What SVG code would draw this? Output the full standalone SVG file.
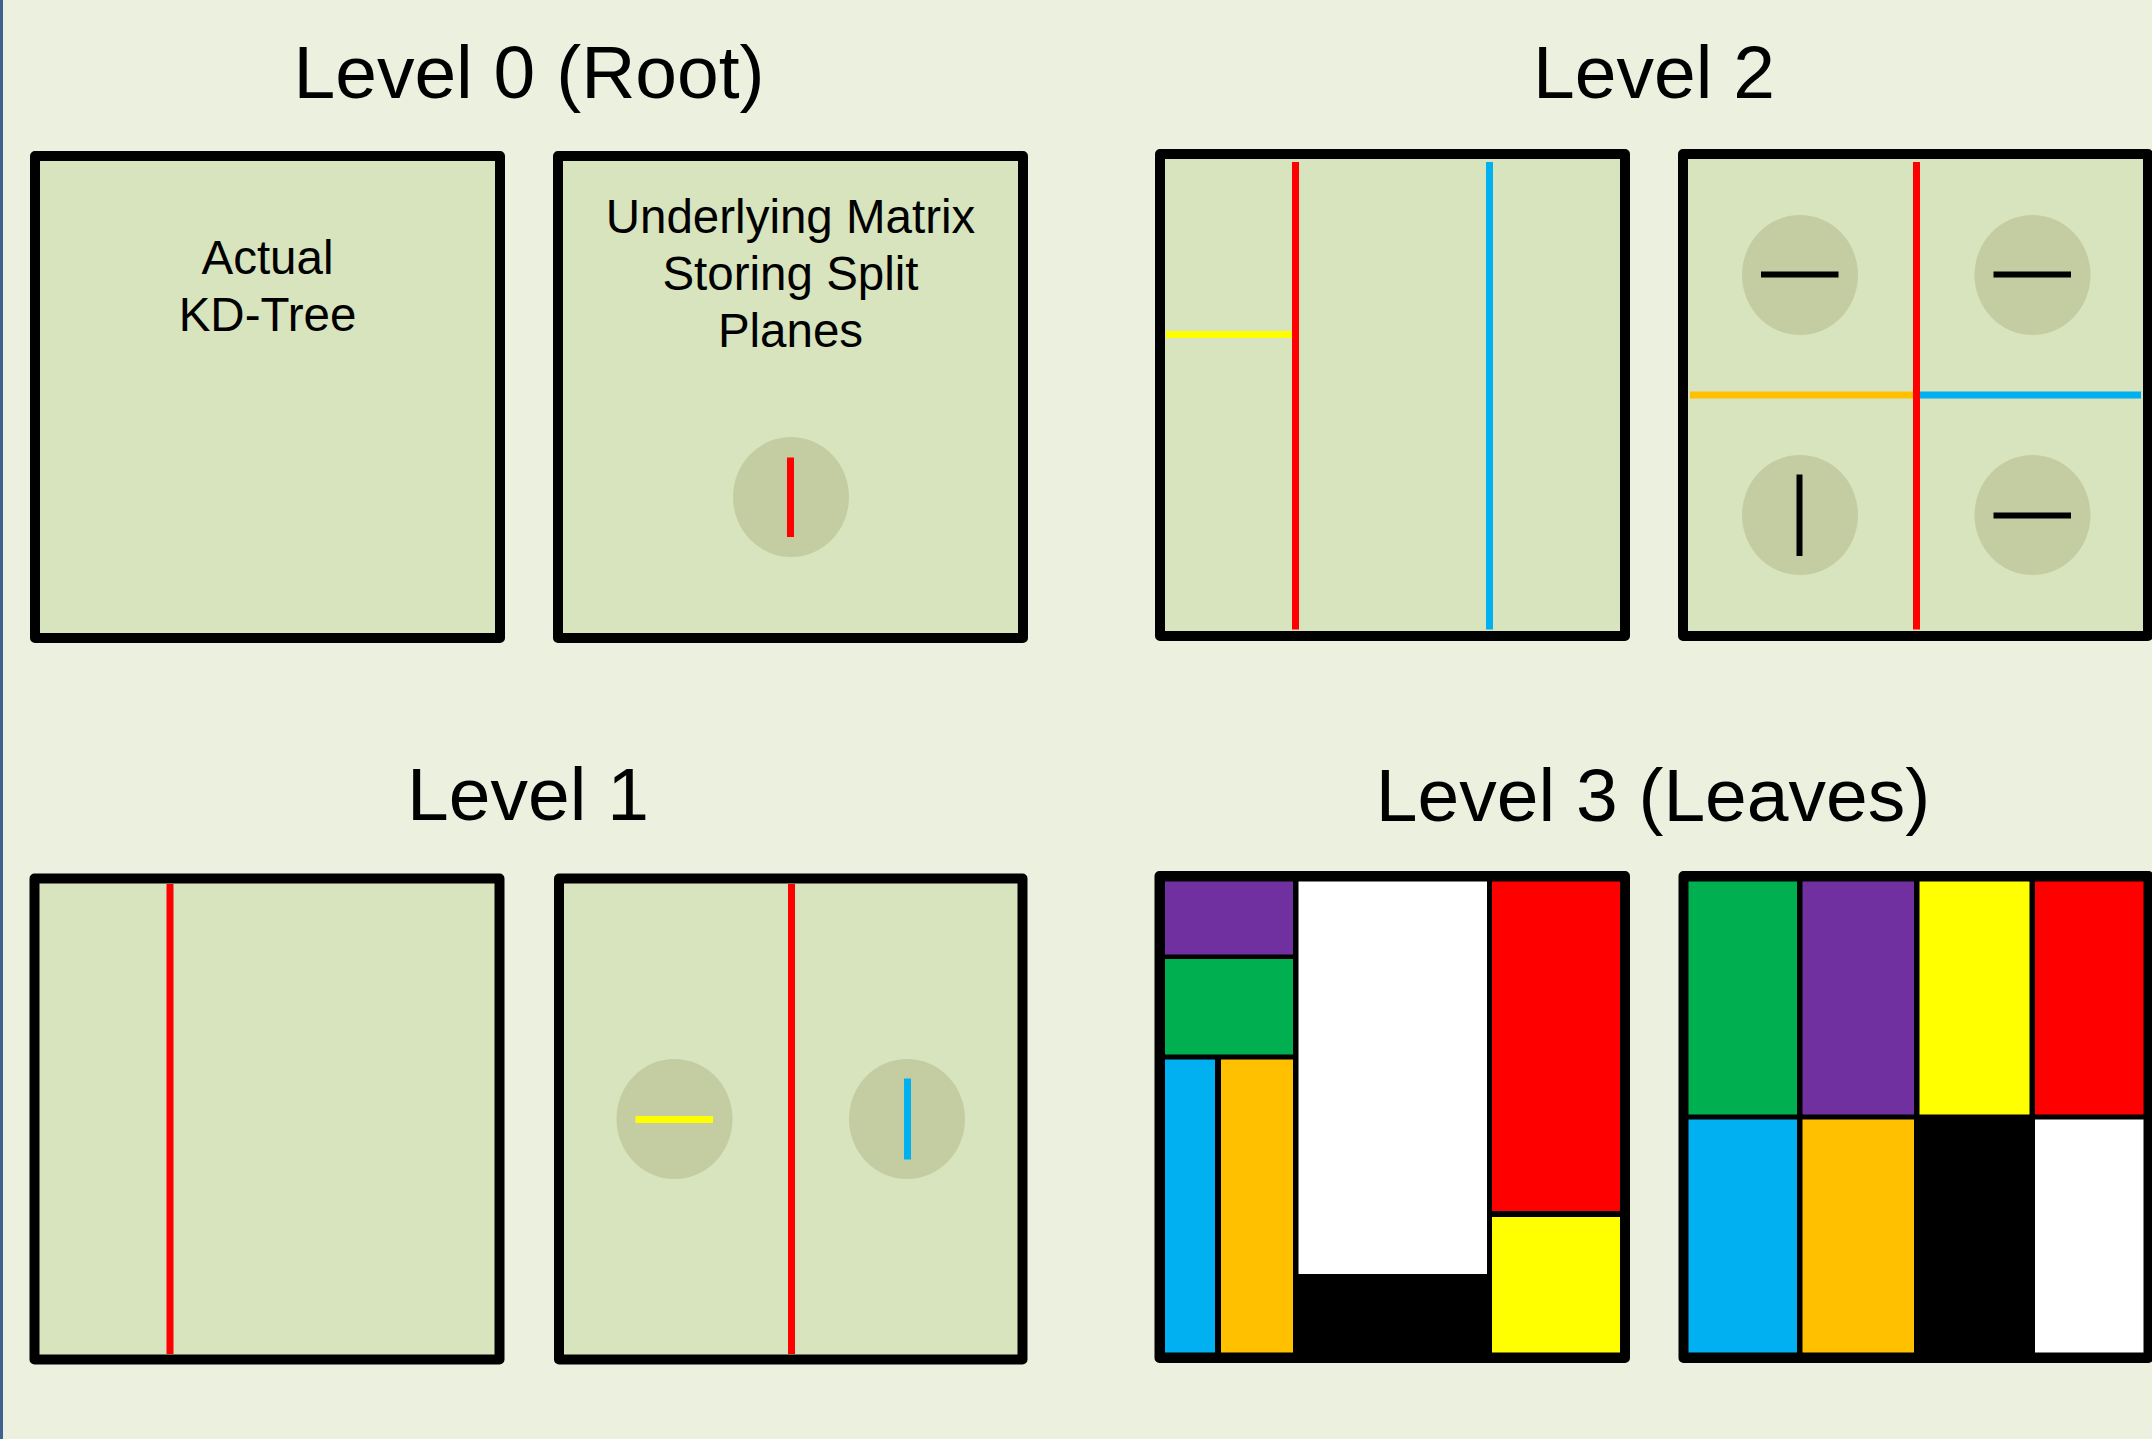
<svg xmlns="http://www.w3.org/2000/svg" width="2152" height="1439" viewBox="0 0 2152 1439">
<style>
.title{font-family:"Liberation Sans",Arial,sans-serif;font-size:75px;fill:#000;text-anchor:middle}
.lbl{font-family:"Liberation Sans",Arial,sans-serif;font-size:47.5px;fill:#000;text-anchor:middle}
.box{fill:#D7E4BD;stroke:#000;stroke-width:10;stroke-linejoin:round}
.leafbox{fill:#000;stroke:#000;stroke-width:10;stroke-linejoin:round}
.oval{fill:#C4CDA2}
.red{stroke:#FF0000;stroke-width:7}
.blue{stroke:#00B0F0;stroke-width:7}
.yellow{stroke:#FFFF00;stroke-width:7}
.orange{stroke:#FFC000;stroke-width:7}
.blk{stroke:#000;stroke-width:6}
</style>
<rect x="0" y="0" width="2152" height="1439" fill="#EBF0DF"/>
<rect x="0" y="0" width="3" height="1439" fill="#3F6190"/>

<g id="level0">
  <text class="title" x="529" y="98">Level 0 (Root)</text>
  <g id="l0-tree">
    <rect class="box" x="35" y="156" width="465" height="482"/>
    <text class="lbl" x="267.5" y="273.5">Actual</text>
    <text class="lbl" x="267.5" y="330.5">KD-Tree</text>
  </g>
  <g id="l0-matrix">
    <rect class="box" x="558" y="156" width="465" height="482"/>
    <text class="lbl" x="790.5" y="232.5">Underlying Matrix</text>
    <text class="lbl" x="790.5" y="289.5">Storing Split</text>
    <text class="lbl" x="790.5" y="346.5">Planes</text>
    <ellipse class="oval" cx="791" cy="497" rx="58" ry="60"/>
    <line class="red" x1="790.5" y1="457.5" x2="790.5" y2="537"/>
  </g>
</g>

<g id="level2">
  <text class="title" x="1654" y="98">Level 2</text>
  <g id="l2-tree">
    <rect class="box" x="1160" y="154" width="465" height="482"/>
    <line class="yellow" x1="1166" y1="334.5" x2="1292" y2="334.5"/>
    <line class="red" x1="1295.5" y1="162" x2="1295.5" y2="629.5"/>
    <line class="blue" x1="1489.5" y1="162" x2="1489.5" y2="629.5"/>
  </g>
  <g id="l2-matrix">
    <rect class="box" x="1683" y="154" width="465" height="482"/>
    <line class="orange" x1="1690" y1="395" x2="1913" y2="395"/>
    <line class="blue" x1="1920" y1="395" x2="2141" y2="395"/>
    <line class="red" x1="1916.5" y1="162" x2="1916.5" y2="629.5"/>
    <ellipse class="oval" cx="1800" cy="275" rx="58" ry="60"/>
    <line class="blk" x1="1761" y1="274.5" x2="1838.5" y2="274.5"/>
    <ellipse class="oval" cx="2032.5" cy="275" rx="58" ry="60"/>
    <line class="blk" x1="1993.5" y1="274.5" x2="2071" y2="274.5"/>
    <ellipse class="oval" cx="1800" cy="515" rx="58" ry="60"/>
    <line class="blk" x1="1799.5" y1="474.5" x2="1799.5" y2="556"/>
    <ellipse class="oval" cx="2032.5" cy="515" rx="58" ry="60"/>
    <line class="blk" x1="1993.5" y1="515.5" x2="2071" y2="515.5"/>
  </g>
</g>

<g id="level1">
  <text class="title" x="528" y="820">Level 1</text>
  <g id="l1-tree">
    <rect class="box" x="34.5" y="878.5" width="465" height="481"/>
    <line class="red" x1="170" y1="884" x2="170" y2="1354"/>
  </g>
  <g id="l1-matrix">
    <rect class="box" x="559" y="878.5" width="463.5" height="481"/>
    <line class="red" x1="791.5" y1="884" x2="791.5" y2="1354"/>
    <ellipse class="oval" cx="674.5" cy="1119" rx="58" ry="60"/>
    <line class="yellow" x1="635.5" y1="1119.5" x2="713" y2="1119.5"/>
    <ellipse class="oval" cx="907" cy="1119" rx="58" ry="60"/>
    <line class="blue" x1="907.5" y1="1078.5" x2="907.5" y2="1159.5"/>
  </g>
</g>

<g id="level3">
  <text class="title" x="1653" y="821">Level 3 (Leaves)</text>
  <g id="l3-tree">
    <rect class="leafbox" x="1159.5" y="876" width="465.5" height="482"/>
    <rect x="1165" y="881.5" width="128" height="73" fill="#7030A0"/>
    <rect x="1165" y="959" width="128" height="95.5" fill="#00B050"/>
    <rect x="1165" y="1059.5" width="50" height="293" fill="#00B0F0"/>
    <rect x="1221" y="1059.5" width="72" height="293" fill="#FFC000"/>
    <rect x="1298.5" y="881.5" width="188.5" height="392.5" fill="#FFFFFF"/>
    <rect x="1492" y="881.5" width="128" height="329.5" fill="#FF0000"/>
    <rect x="1492" y="1217" width="128" height="135.5" fill="#FFFF00"/>
  </g>
  <g id="l3-matrix">
    <rect class="leafbox" x="1683.5" y="876" width="465" height="482"/>
    <rect x="1688.5" y="881.5" width="108.5" height="233" fill="#00B050"/>
    <rect x="1802.5" y="881.5" width="111.5" height="233" fill="#7030A0"/>
    <rect x="1919.5" y="881.5" width="110" height="233" fill="#FFFF00"/>
    <rect x="2035" y="881.5" width="108.5" height="233" fill="#FF0000"/>
    <rect x="1688.5" y="1119.5" width="108.5" height="233" fill="#00B0F0"/>
    <rect x="1802.5" y="1119.5" width="111.5" height="233" fill="#FFC000"/>
    <rect x="2035" y="1119.5" width="108.5" height="233" fill="#FFFFFF"/>
  </g>
</g>

<g id="connectors"/>
</svg>
